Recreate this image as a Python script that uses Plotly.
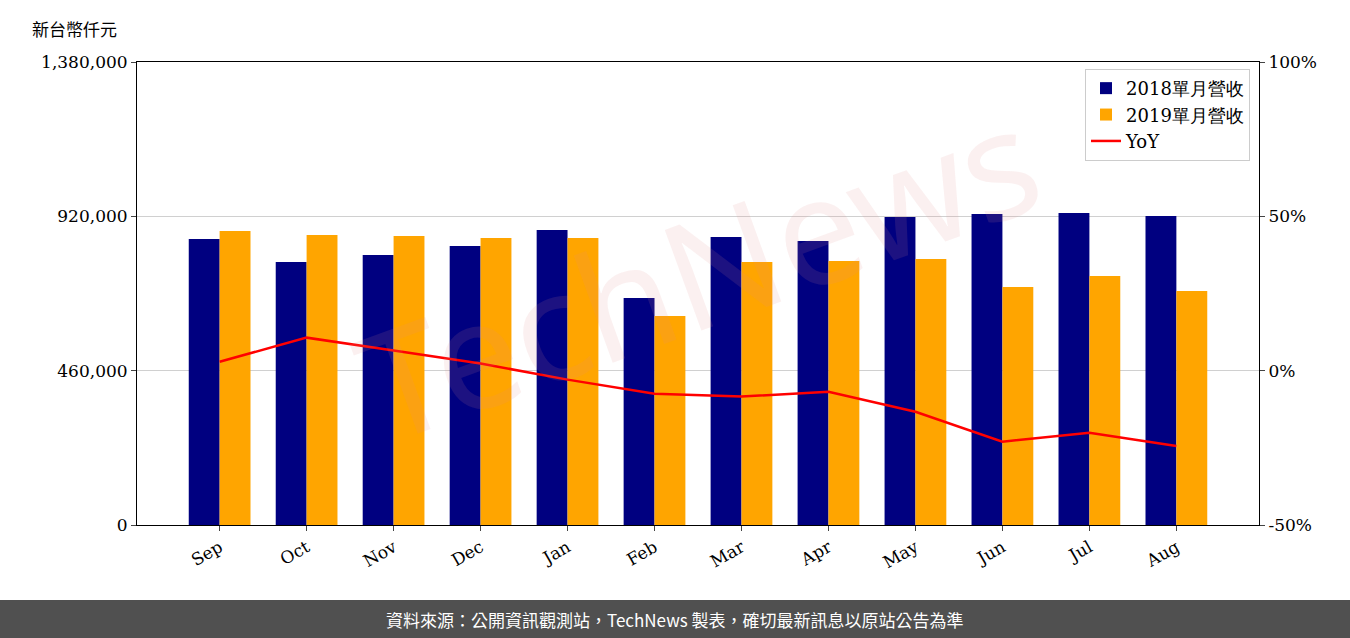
import plotly.graph_objects as go

months = ['Sep', 'Oct', 'Nov', 'Dec', 'Jan', 'Feb', 'Mar', 'Apr', 'May', 'Jun', 'Jul', 'Aug']
rev_2018 = [852600, 784000, 805000, 831700, 879400, 676700, 858500, 846600, 918000, 927000, 930000, 921000]
rev_2019 = [876400, 864500, 861500, 855500, 855500, 623000, 784000, 787000, 793000, 709500, 742300, 697500]
yoy = [2.9, 10.7, 6.5, 2.3, -2.9, -7.5, -8.4, -6.8, -13.3, -23.0, -20.1, -24.4]
yoy_ticks = [-50, 0, 50, 100]

serif = 'DejaVu Serif'

fig = go.Figure()
fig.add_trace(go.Bar(x=months, y=rev_2018, name='2018單月營收', marker_color='#000080',
                     marker_line_width=0))
fig.add_trace(go.Bar(x=months, y=rev_2019, name='2019單月營收', marker_color='#FFA500',
                     marker_line_width=0))
fig.add_trace(go.Scatter(x=months, y=yoy, name='YoY', mode='lines',
                         line=dict(color='red', width=2.5), yaxis='y2'))

fig.update_layout(
    width=1350, height=638,
    margin=dict(l=137, r=91, t=62, b=113),
    plot_bgcolor='white', paper_bgcolor='white',
    barmode='group', bargap=0.29, bargroupgap=0,
    font=dict(family=serif, size=17, color='black'),
    xaxis=dict(range=[-0.95, 11.95], tickangle=-30, showline=True, linecolor='black',
               mirror=True, ticks='outside', ticklen=5),
    yaxis=dict(range=[0, 1380000], tickvals=[0, 460000, 920000, 1380000],
               tickformat=',d', showgrid=True, gridcolor='#d0d0d0', showline=True,
               linecolor='black', ticks='outside', ticklen=5, zeroline=False),
    yaxis2=dict(range=[-50, 100], tickvals=yoy_ticks,
                ticktext=[f'{v}%' for v in yoy_ticks],
                overlaying='y', side='right', showgrid=False, showline=True,
                linecolor='black', ticks='outside', ticklen=5, zeroline=False),
    legend=dict(x=0.992, y=0.985, xanchor='right', yanchor='top',
                bordercolor='#cccccc', borderwidth=1, bgcolor='rgba(255,255,255,0.9)',
                font=dict(family=serif, size=18), tracegroupgap=4),
    showlegend=True,
)

fig.add_annotation(text='新台幣仟元', xref='paper', yref='paper', x=-0.095, y=1.04,
                   xanchor='left', yanchor='bottom', showarrow=False,
                   font=dict(family='Noto Sans CJK TC', size=17))
fig.add_annotation(text='TechNews', xref='paper', yref='paper', x=0.5, y=0.55,
                   showarrow=False, textangle=-20,
                   font=dict(family='Noto Sans', size=150, color='rgba(225,140,140,0.13)'))

fig.add_shape(type='rect', xref='paper', yref='paper', x0=-0.13, x1=1.1,
              y0=-0.245, y1=-0.162, fillcolor='#505050', line_width=0, layer='above')
fig.add_annotation(text='資料來源：公開資訊觀測站，TechNews 製表，確切最新訊息以原站公告為準',
                   xref='paper', yref='paper', x=(675 - 137) / 1122, y=-0.205,
                   yanchor='middle', showarrow=False,
                   font=dict(family='Noto Sans CJK TC', size=17, color='white'))

fig.write_html('out.html', config={'displayModeBar': False},
               post_script="document.body.style.margin='0';document.body.style.overflow='hidden';")
